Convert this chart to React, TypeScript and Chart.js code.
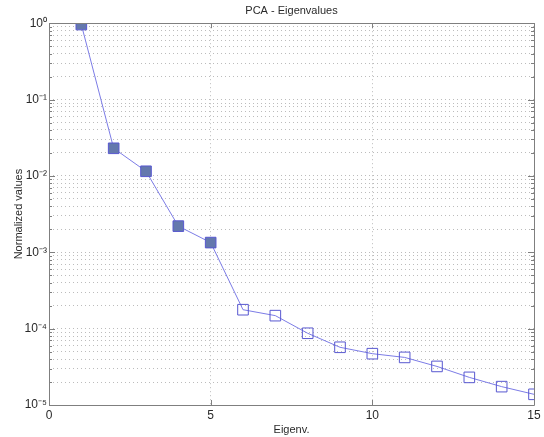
import React, { useEffect, useRef } from "react";
import { Chart, registerables } from "chart.js";

Chart.register(...registerables);

const eigenIndex = [1, 2, 3, 4, 5, 6, 7, 8, 9, 10, 11, 12, 13, 14, 15];
const normalizedValues = [
  0.96, 0.023, 0.0115, 0.0022, 0.00134, 1.77e-4, 1.48e-4, 8.7e-5, 5.7e-5,
  4.7e-5, 4.2e-5, 3.2e-5, 2.3e-5, 1.74e-5, 1.38e-5,
];
const retained = [true, true, true, true, true, false, false, false, false, false, false, false, false, false, false];
const xTicks = [0, 5, 10, 15];
const yDecades = [0, -1, -2, -3, -4, -5];
const supMap: Record<string, string> = { "0": "⁰", "1": "¹", "2": "²", "3": "³", "4": "⁴", "5": "⁵", "-": "⁻" };

const yTickValues: number[] = [];
for (let e = -5; e <= 0; e++) {
  const lim = e === 0 ? 1 : 9;
  for (let m = 1; m <= lim; m++) yTickValues.push(m * Math.pow(10, e));
}

const FONT = "'Liberation Sans', Arial, Helvetica, sans-serif";
const AXIS_COLOR = "#7f7f7f";
const GRID_COLOR = "#bcbcbc";
const TEXT_COLOR = "#2a2a2a";
const LINE_COLOR = "#7c7ce6";
const MARKER_EDGE = "#5858d0";
const MARKER_FILL = "#6478ad";

const isDecade = (v: number) => {
  const l = Math.log10(v);
  return Math.abs(l - Math.round(l)) < 1e-9;
};

const boxPlugin = {
  id: "boxTicks",
  afterDraw(chart: any) {
    const { ctx, chartArea } = chart;
    const { left, right, top, bottom } = chartArea;
    const ys = chart.scales.y;
    const xs = chart.scales.x;
    ctx.save();
    ctx.strokeStyle = AXIS_COLOR;
    ctx.lineWidth = 1;
    ctx.setLineDash([]);
    ctx.beginPath();
    ctx.rect(Math.round(left) + 0.5, Math.round(top) + 0.5, Math.round(right - left), Math.round(bottom - top));
    ctx.stroke();
    ctx.beginPath();
    yTickValues.forEach((v) => {
      const p = Math.round(ys.getPixelForValue(v)) + 0.5;
      const len = isDecade(v) ? 6 : 3;
      ctx.moveTo(left, p);
      ctx.lineTo(left + len, p);
      ctx.moveTo(right, p);
      ctx.lineTo(right - len, p);
    });
    xTicks.forEach((v) => {
      const p = Math.round(xs.getPixelForValue(v)) + 0.5;
      ctx.moveTo(p, bottom);
      ctx.lineTo(p, bottom - 5);
      ctx.moveTo(p, top);
      ctx.lineTo(p, top + 5);
    });
    ctx.stroke();
    ctx.restore();
  },
};

export default function App() {
  const ref = useRef<HTMLCanvasElement | null>(null);
  useEffect(() => {
    if (!ref.current) return;
    const chart = new Chart(ref.current, {
      type: "line",
      data: {
        datasets: [
          {
            data: eigenIndex.map((x, i) => ({ x, y: normalizedValues[i] })),
            borderColor: LINE_COLOR,
            borderWidth: 1,
            pointStyle: "rect",
            pointRadius: 7.5,
            pointBorderWidth: 1,
            pointBorderColor: MARKER_EDGE,
            pointBackgroundColor: retained.map((r) => (r ? MARKER_FILL : "transparent")),
            tension: 0,
          },
        ],
      },
      options: {
        animation: false,
        responsive: false,
        devicePixelRatio: 1,
        layout: { padding: { left: 8, right: 10, top: 0, bottom: 0 } },
        plugins: {
          legend: { display: false },
          tooltip: { enabled: false },
          title: {
            display: true,
            fullSize: false,
            text: "PCA - Eigenvalues",
            color: TEXT_COLOR,
            font: { family: FONT, size: 11, weight: "normal" },
            padding: { top: 4, bottom: 6 },
          },
        },
        scales: {
          x: {
            type: "linear",
            min: 0,
            max: 15,
            afterBuildTicks: (s: any) => {
              s.ticks = xTicks.map((v) => ({ value: v }));
            },
            afterFit: (s: any) => {
              s.height = 32;
            },
            ticks: {
              color: TEXT_COLOR,
              font: { family: FONT, size: 12 },
              padding: 3,
              maxRotation: 0,
              autoSkip: false,
            },
            grid: {
              color: GRID_COLOR,
              lineWidth: 1,
              drawTicks: false,
            },
            border: { display: false, dash: [1, 3] },
            title: {
              display: true,
              text: "Eigenv.",
              color: TEXT_COLOR,
              font: { family: FONT, size: 11 },
              padding: { top: 1, bottom: 0 },
            },
          },
          y: {
            type: "logarithmic",
            min: 1e-5,
            max: 1,
            afterBuildTicks: (s: any) => {
              s.ticks = yTickValues.map((v) => ({ value: v }));
            },
            afterFit: (s: any) => {
              s.width = 41;
            },
            ticks: {
              color: TEXT_COLOR,
              font: { family: FONT, size: 12 },
              padding: 2,
              autoSkip: false,
              callback: (v: any) => {
                const n = Number(v);
                if (!isDecade(n)) return "";
                const e = Math.round(Math.log10(n));
                if (!yDecades.includes(e)) return "";
                return "10" + String(e).split("").map((c) => supMap[c]).join("");
              },
            },
            grid: {
              color: GRID_COLOR,
              lineWidth: 1,
              drawTicks: false,
            },
            border: { display: false, dash: [1, 3] },
            title: {
              display: true,
              text: "Normalized values",
              color: TEXT_COLOR,
              font: { family: FONT, size: 11 },
              padding: { top: 4, bottom: 0 },
            },
          },
        },
      } as any,
      plugins: [boxPlugin],
    });
    return () => chart.destroy();
  }, []);
  return (
    <div style={{ position: "absolute", left: 0, top: 0, width: 544, height: 437, background: "#fff" }}>
      <canvas ref={ref} width={544} height={437} style={{ display: "block" }} />
    </div>
  );
}
